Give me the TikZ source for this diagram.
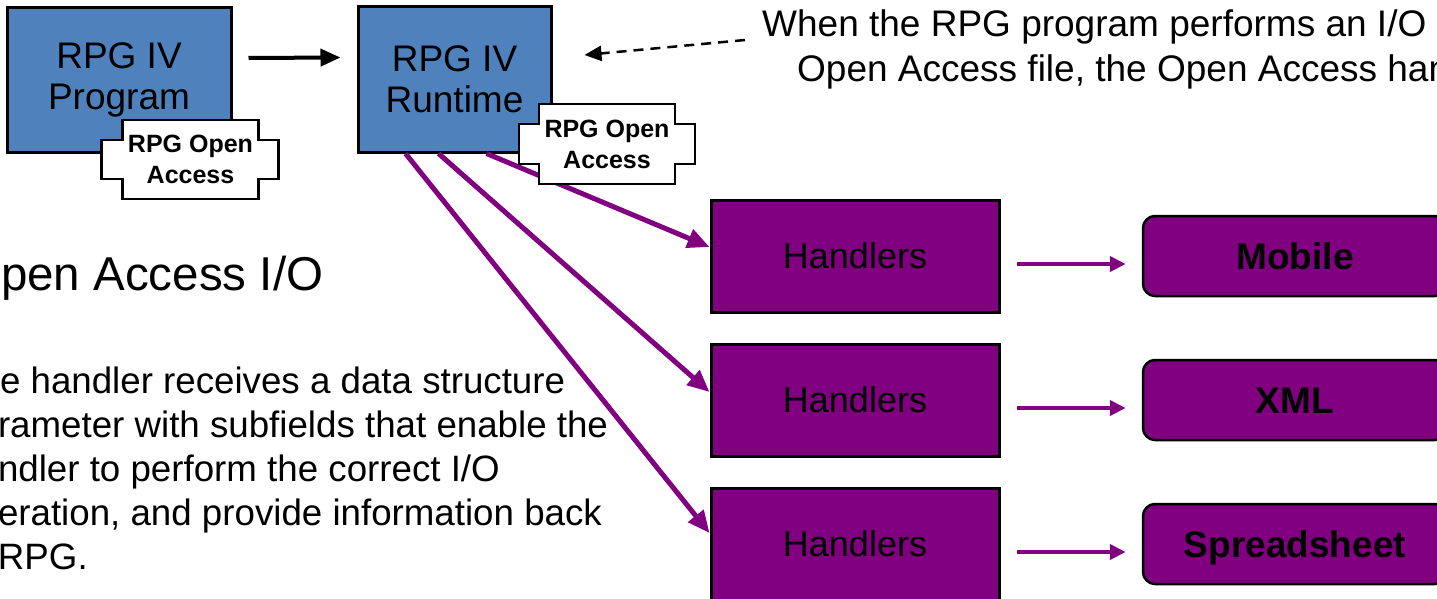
\documentclass[tikz,border=0pt]{standalone}
\usepackage{fontspec}
\setmainfont{Liberation Sans}
\usetikzlibrary{arrows.meta,calc}
\definecolor{boxblue}{HTML}{4F81BD}
\definecolor{oapurple}{HTML}{800080}
\begin{document}
\begin{tikzpicture}[x=1pt,y=-1pt,
  bluebox/.style={draw=black,line width=3pt,fill=boxblue,minimum height=145pt,inner sep=0pt,align=center,font=\fontsize{37}{41}\selectfont},
  tagline/.style={draw=black,line width=2.5pt,fill=white},
  tagtext/.style={inner sep=0pt,align=center,font=\fontsize{25}{31}\selectfont\bfseries},
  handlerbox/.style={draw=black,line width=3pt,fill=oapurple,minimum width=288pt,minimum height=112pt,inner sep=0pt,font=\fontsize{36}{43}\selectfont},
  targetbox/.style={draw=black,line width=2.5pt,fill=oapurple,rounded corners=12pt,minimum width=304pt,minimum height=80pt,inner sep=0pt,text height=26pt,text depth=0pt,font=\fontsize{37}{44}\selectfont\bfseries},
  bigarrow/.style={draw=black,line width=4pt,-{Triangle[length=20pt,width=17pt]}},
  dasharrow/.style={draw=black,line width=2.5pt,dash pattern=on 10pt off 7pt,-{Triangle[length=17pt,width=15pt]}},
  diagarrow/.style={draw=oapurple,line width=5pt,-{Triangle[length=22pt,width=19pt]}},
  sidearrow/.style={draw=oapurple,line width=4.5pt,-{Triangle[length=16pt,width=15pt]}},
  plaintext/.style={inner sep=0pt,anchor=base west,align=left}
]
\useasboundingbox (0,0) rectangle (1437,599);
\clip (0,0) rectangle (1437,599);

% blue boxes
\node[bluebox,minimum width=224pt] (prog) at (119,80) {RPG IV\\Program};
\node[bluebox,minimum width=193pt] (rt) at (454.5,79.5) {RPG IV\\Runtime};

% handlers and targets
\node[handlerbox] (h1) at (855,256) {Handlers};
\node[handlerbox] (h2) at (855,400) {Handlers};
\node[handlerbox] (h3) at (855,544) {Handlers};
\node[targetbox] (t1) at (1295,256) {Mobile};
\node[targetbox] (t2) at (1295,400) {XML};
\node[targetbox] (t3) at (1295,544) {Spreadsheet};

% connectors
\draw[bigarrow] ($(prog.east)+(16,-22)$) -- ($(rt.west)+(-16,-22)$);
\coordinate (note) at (745,40);
\draw[dasharrow] (note) -- ($(rt.east)+(32,-24.5)$);
\coordinate (s1) at ($(rt.south west)+(49,0)$);
\coordinate (s2) at ($(rt.south west)+(82,0)$);
\coordinate (s3) at ($(rt.south west)+(130,0)$);
\draw[diagarrow] (s3) -- ($(h1.west)+(0,-9)$);
\draw[diagarrow] (s2) -- ($(h2.west)+(0,-8)$);
\draw[diagarrow] (s1) -- ($(h3.west)+(0,-11)$);
\draw[sidearrow] ($(h1.east)+(16,8)$) -- ($(t1.west)+(-16,8)$);
\draw[sidearrow] ($(h2.east)+(16,8)$) -- ($(t2.west)+(-16,8)$);
\draw[sidearrow] ($(h3.east)+(16,8)$) -- ($(t3.west)+(-16,8)$);

% Open Access tags
\coordinate (c1) at (190.5,159.5);
\draw[tagline] ($(c1)+(-68,-39.5)$) -- ++(136,0) -- ++(0,20) -- ++(20,0) -- ++(0,39) -- ++(-20,0) -- ++(0,20) -- ++(-136,0) -- ++(0,-20) -- ++(-21,0) -- ++(0,-39) -- ++(21,0) -- cycle;
\node[tagtext] (oa1) at (c1) {RPG Open\\Access};
\coordinate (c2) at (607,144);
\draw[tagline] ($(c2)+(-68,-40)$) -- ++(136,0) -- ++(0,20) -- ++(20,0) -- ++(0,40) -- ++(-20,0) -- ++(0,20) -- ++(-136,0) -- ++(0,-20) -- ++(-20,0) -- ++(0,-40) -- ++(20,0) -- cycle;
\node[tagtext] (oa2) at (c2) {RPG Open\\Access};

% texts (base west = baseline of the last line)
\node[plaintext,font=\fontsize{37}{45}\selectfont] (notetext) at (762,82) {When the RPG program performs an I/O\\\hspace*{35pt}Open Access file, the Open Access handler};
\node[plaintext,font=\fontsize{47.5}{56}\selectfont] (head) at (-36,290) {Open Access I/O};
\node[plaintext,font=\fontsize{36.7}{44}\selectfont] (body) at (-43,569) {The handler receives a data structure\\parameter with subfields that enable the\\handler to perform the correct I/O\\operation, and provide information back\\to RPG.};
\end{tikzpicture}
\end{document}
